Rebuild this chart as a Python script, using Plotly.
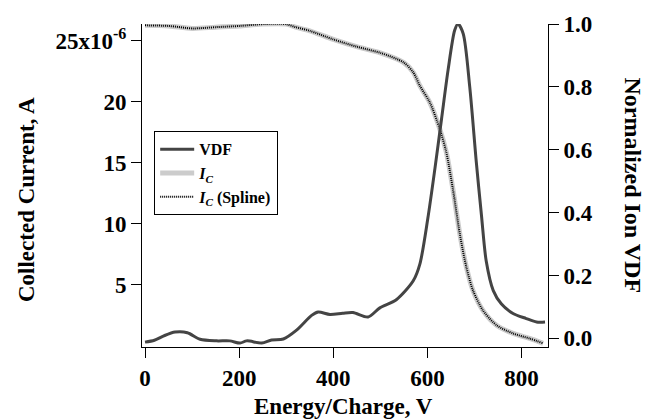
import plotly.graph_objects as go

# ---- data ----
energy_vdf = [0, 20, 40, 64, 90, 117, 152, 180, 202, 216, 248, 269, 294, 322, 354, 368, 393,
              420, 442, 474, 499, 534, 570, 584, 601, 616, 630, 644, 658, 665, 676, 690, 704,
              715, 725, 740, 757, 782, 810, 832, 850]
vdf = [-0.012, -0.006, 0.008, 0.020, 0.018, -0.003, -0.008, -0.008, -0.015, -0.008, -0.015,
       -0.005, -0.002, 0.026, 0.073, 0.084, 0.076, 0.080, 0.082, 0.068, 0.097, 0.123, 0.183,
       0.236, 0.382, 0.540, 0.697, 0.854, 0.980, 1.000, 0.970, 0.800, 0.560, 0.390, 0.246,
       0.152, 0.110, 0.079, 0.063, 0.052, 0.052]

energy_ic = [0, 50, 100, 150, 200, 250, 300, 320, 350, 400, 450, 500, 550, 570, 584, 605, 626,
             640, 654, 669, 683, 697, 718, 747, 782, 817, 846]
ic_uA = [26.25, 26.2, 26.0, 26.1, 26.2, 26.35, 26.35, 26.1, 25.8, 25.1, 24.5, 24.0, 23.2, 22.4,
         21.3, 19.95, 17.8, 15.9, 12.9, 9.16, 6.43, 4.54, 2.92, 1.70, 1.03, 0.62, 0.22]
ic_spline_uA = list(ic_uA)

x_ticks = [0, 200, 400, 600, 800]
left_tickvals_uA = [5, 10, 15, 20, 25]
left_ticktext = ["5", "10", "15", "20", "25x10<sup>-6</sup>"]
right_tickvals = [0.0, 0.2, 0.4, 0.6, 0.8, 1.0]
right_ticktext = ["0.0", "0.2", "0.4", "0.6", "0.8", "1.0"]

ic = [v * 1e-6 for v in ic_uA]
ic_spline = [v * 1e-6 for v in ic_spline_uA]
left_tickvals = [v * 1e-6 for v in left_tickvals_uA]

FONT = "Liberation Serif"
tickfont = dict(family=FONT, size=23, color="black", weight="bold")

fig = go.Figure()
fig.add_trace(go.Scatter(x=energy_vdf, y=vdf, name="VDF", yaxis="y2", mode="lines",
                         line=dict(color="#444444", width=3, shape="spline", smoothing=0.8)))
fig.add_trace(go.Scatter(x=energy_ic, y=ic, name="<i>I<sub>C</sub></i>", mode="lines",
                         line=dict(color="#cccccc", width=5, shape="spline", smoothing=0.8)))
fig.add_trace(go.Scatter(x=energy_ic, y=ic_spline, name="<i>I<sub>C</sub></i> (Spline)", mode="lines",
                         line=dict(color="black", width=2, dash="1px,1px", shape="spline", smoothing=0.8)))

fig.update_layout(
    width=663, height=419,
    margin=dict(l=142, r=115, t=21, b=72),
    paper_bgcolor="white", plot_bgcolor="white",
    showlegend=True,
    legend=dict(x=0.03, y=0.668, xanchor="left", yanchor="top",
                bordercolor="black", borderwidth=1, bgcolor="white",
                font=dict(family=FONT, size=16, color="black", weight="bold"),
                tracegroupgap=0, itemwidth=34),
    xaxis=dict(range=[-6.4, 856.3], tickvals=x_ticks, ticks="outside", ticklen=10, tickwidth=1,
               tickcolor="black", showline=True, linecolor="black", linewidth=1,
               showgrid=False, zeroline=False, tickfont=tickfont),
    yaxis=dict(range=[-0.08e-6, 26.36e-6], tickvals=left_tickvals, ticktext=left_ticktext,
               ticks="outside", ticklen=10, tickwidth=1, tickcolor="black",
               showline=True, linecolor="black", linewidth=1,
               showgrid=False, zeroline=False, tickfont=tickfont),
    yaxis2=dict(range=[-0.0275, 1.0], overlaying="y", side="right", tickvals=right_tickvals,
                ticktext=right_ticktext, ticks="outside", ticklen=10, tickwidth=1, tickcolor="black",
                showline=True, linecolor="black", linewidth=1,
                showgrid=False, zeroline=False, tickfont=tickfont),
    annotations=[
        dict(text="Energy/Charge, V", xref="paper", yref="paper", x=0.4975, y=-0.184,
             xanchor="center", yanchor="middle", showarrow=False,
             font=dict(family=FONT, size=23, color="black", weight="bold")),
        dict(text="Collected Current, A", xref="paper", yref="paper", x=-0.2857, y=0.455,
             xanchor="center", yanchor="middle", showarrow=False, textangle=-90,
             font=dict(family=FONT, size=23, color="black", weight="bold")),
        dict(text="Normalized Ion VDF", xref="paper", yref="paper", x=1.2118, y=0.5,
             xanchor="center", yanchor="middle", showarrow=False, textangle=90,
             font=dict(family=FONT, size=24, color="black", weight="bold")),
    ],
)

fig.write_html("out.html")
